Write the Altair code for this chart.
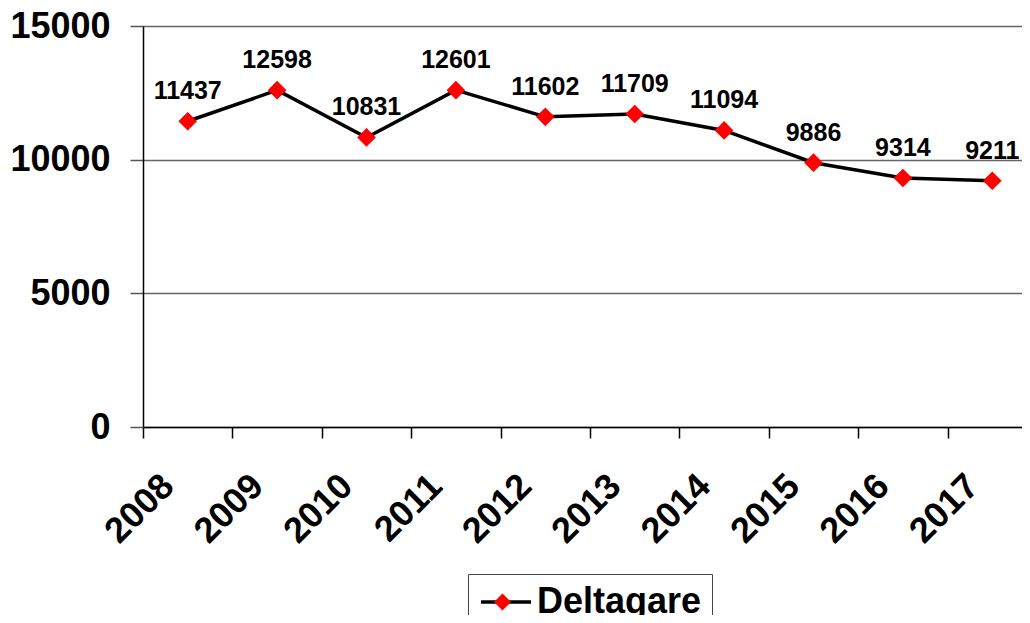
import altair as alt
import pandas as pd

years = ["2008", "2009", "2010", "2011", "2012", "2013", "2014", "2015", "2016", "2017"]
values = [11437, 12598, 10831, 12601, 11602, 11709, 11094, 9886, 9314, 9211]
series_name = "Deltagare"
y_ticks = [0, 5000, 10000, 15000]

df = pd.DataFrame({
    "year": years,
    "value": values,
    "series": [series_name] * len(years),
    "series_marker": [series_name] * len(years),
})

FONT = "Liberation Sans"

x_enc = alt.X(
    "year:O",
    sort=years,
    scale=alt.Scale(type="band", paddingInner=0, paddingOuter=0, range=[0, 894]),
    axis=alt.Axis(
        title=None, labelAngle=-45, labelAlign="right", labelBaseline="middle",
        labelFont=FONT, labelFontSize=36, labelFontWeight="bold", labelColor="black",
        tickBand="extent", tickSize=11, tickColor="black", tickWidth=1.5,
        domainColor="black", domainWidth=1.5, labelPadding=42, labelOffset=-20,
        grid=False,
    ),
)
y_enc = alt.Y(
    "value:Q",
    scale=alt.Scale(domain=[0, 15000], nice=False),
    axis=alt.Axis(
        title=None, values=y_ticks, format="d", labelFont=FONT, labelFontSize=36,
        labelFontWeight="bold", labelColor="black", labelPadding=20,
        tickSize=13, tickColor="#555555", tickWidth=1.5,
        domainColor="black", domainWidth=1.5,
        grid=True, gridColor="#666666", gridWidth=1.5,
    ),
)

base = alt.Chart(df)

line = base.mark_line(strokeWidth=3.5).encode(
    x=x_enc, y=y_enc,
    stroke=alt.Stroke(
        "series:N", scale=alt.Scale(range=["black"]),
        legend=alt.Legend(
            title=None, orient="none", legendX=325, legendY=548,
            symbolType="M-1.6667,0L1.6667,0", symbolSize=900, symbolStrokeWidth=3.5,
            symbolOffset=10,
            labelFont=FONT, labelFontSize=36, labelFontWeight="bold", labelColor="black",
            labelOffset=13, labelLimit=400, padding=10, strokeColor="#444444", zindex=1,
        ),
    ),
)

points = base.mark_point(shape="diamond", filled=True, size=350, opacity=1, strokeWidth=0).encode(
    x=x_enc, y=y_enc,
    fill=alt.Fill(
        "series_marker:N", scale=alt.Scale(range=["#FF0000"]),
        legend=alt.Legend(
            title=None, orient="none", legendX=331.5, legendY=548,
            symbolType="diamond", symbolSize=289, symbolStrokeWidth=0, symbolOpacity=1,
            labelFont=FONT, labelFontSize=36, labelFontWeight="bold", labelOpacity=0,
            labelOffset=10, labelLimit=400, padding=10, zindex=2,
        ),
    ),
)

labels = base.mark_text(
    dy=-22, baseline="alphabetic", align="center",
    font=FONT, fontSize=25, fontWeight="bold", color="black",
).encode(x=x_enc, y=y_enc, text=alt.Text("value:Q", format="d"))

chart = (
    alt.layer(line, points, labels)
    .properties(
        width=879, height=401,
        autosize=alt.AutoSizeParams(type="none"),
        padding={"left": 135, "top": 18, "right": 0, "bottom": 188},
        background="white",
    )
    .configure_view(strokeWidth=0)
)

chart.save("out.html", embed_options={"renderer": "svg", "actions": False})
